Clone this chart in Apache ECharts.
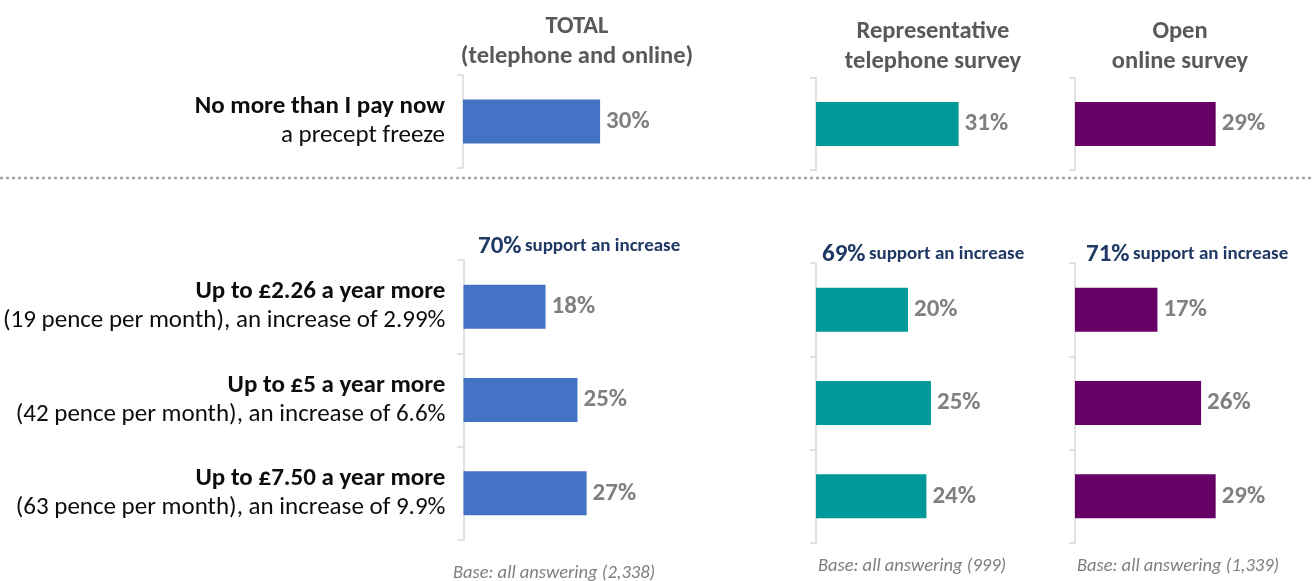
<!DOCTYPE html>
<html>
<head>
<meta charset="utf-8">
<script src="https://cdn.jsdelivr.net/npm/echarts@6/dist/echarts.min.js"></script>
<style>
html,body{margin:0;padding:0;background:#fff;}
#chart{width:1313px;height:581px;}
</style>
</head>
<body>
<div id="chart"></div>
<script>
// ---- data ----
const topCatBold = ['No more than I pay now'];
const topCatSub = ['a precept freeze'];
const incCatBold = ['Up to £2.26 a year more', 'Up to £5 a year more', 'Up to £7.50 a year more'];
const incCatSub = ['(19 pence per month), an increase of 2.99%', '(42 pence per month), an increase of 6.6%', '(63 pence per month), an increase of 9.9%'];

const panelTitles = ['TOTAL\n(telephone and online)', 'Representative\ntelephone survey', 'Open\nonline survey'];
const totalTop = [30];
const phoneTop = [31];
const onlineTop = [29];
const totalInc = [18, 25, 27];
const phoneInc = [20, 25, 24];
const onlineInc = [17, 26, 29];
const supportPct = [70, 69, 71];
const baseTexts = ['Base: all answering (2,338)', 'Base: all answering (999)', 'Base: all answering (1,339)'];

// ---- style ----
const FONT = 'Carlito, Lato, "Liberation Sans", sans-serif';
const colors = ['#4472c4', '#009999', '#660066'];
const axisGray = '#d9d9d9';

const topCats = topCatBold.map((b, i) => b + '\n' + topCatSub[i]);
const incCats = incCatBold.map((b, i) => b + '\n' + incCatSub[i]);

const panels = [
  {left: 463, topT: 75, topH: 93, botT: 260, botH: 280, max: 50, width: 228.5, top: totalTop, inc: totalInc, titleX: 577, titleY: 12, baseX: 554, baseY: 564, supX: 478, supY: 246},
  {left: 816, topT: 78, topH: 92, botT: 263, botH: 280, max: 50, width: 230, top: phoneTop, inc: phoneInc, titleX: 933, titleY: 17, baseX: 912, baseY: 557, supX: 822, supY: 254},
  {left: 1075, topT: 78, topH: 92, botT: 263, botH: 280, max: 40, width: 194, top: onlineTop, inc: onlineInc, titleX: 1180, titleY: 17, baseX: 1178, baseY: 557, supX: 1086, supY: 254}
];

const grids = [], xAxes = [], yAxes = [], series = [], titles = [], graphics = [];

function catFormatter(v) {
  const parts = v.split('\n');
  return '{b|' + parts[0] + '}\n{n|' + parts[1] + '}';
}

panels.forEach((p, pi) => {
  [[p.topT, p.topH, topCats, p.top], [p.botT, p.botH, incCats, p.inc]].forEach(([t, h, cats, vals], k) => {
    const gi = grids.length;
    grids.push({left: p.left, top: t, width: p.width, height: h, containLabel: false});
    xAxes.push({type: 'value', gridIndex: gi, min: 0, max: p.max, show: false});
    yAxes.push({
      type: 'category', gridIndex: gi, inverse: true, data: cats,
      axisLine: {show: true, lineStyle: {color: axisGray, width: 1.5}},
      axisTick: {show: true, length: 6, lineStyle: {color: axisGray, width: 1.5}},
      axisLabel: {
        show: pi === 0, margin: 18, formatter: catFormatter,
        rich: {
          b: {fontFamily: FONT, fontSize: 25, fontWeight: 'bold', color: '#0d0d0d', align: 'right', lineHeight: 29},
          n: {fontFamily: FONT, fontSize: 25, color: '#0d0d0d', align: 'right', lineHeight: 29}
        }
      },
      splitLine: {show: false}
    });
    series.push({
      type: 'bar', xAxisIndex: gi, yAxisIndex: gi, data: vals, barWidth: 44,
      itemStyle: {color: colors[pi]},
      label: {show: true, position: 'right', distance: 6, formatter: '{c}%', fontFamily: FONT, fontSize: 25, fontWeight: 'bold', color: '#808080'},
      animation: false
    });
  });
  titles.push({
    text: panelTitles[pi], left: p.titleX, top: p.titleY, textAlign: 'center', padding: 0,
    textStyle: {fontFamily: FONT, fontSize: 24.5, fontWeight: 'bold', color: '#595959', lineHeight: 30}
  });
  titles.push({
    text: baseTexts[pi], left: p.baseX, top: p.baseY, textAlign: 'center', padding: 0,
    textStyle: {fontFamily: FONT, fontSize: 18.5, fontStyle: 'italic', fontWeight: 'normal', color: '#7f7f7f'}
  });
  graphics.push({
    type: 'text', left: p.supX, top: p.supY - 12,
    style: {
      text: '{p|' + supportPct[pi] + '%} {s|support an increase}',
      rich: {
        p: {fontFamily: FONT, fontSize: 25, fontWeight: 'bold', fill: '#1f3864'},
        s: {fontFamily: FONT, fontSize: 19, fontWeight: 'bold', fill: '#1f3864'}
      }
    }
  });
});

graphics.push({
  type: 'line', shape: {x1: 0, y1: 178, x2: 1313, y2: 178},
  style: {stroke: '#a6a6a6', lineWidth: 2.5, lineDash: [3, 3]}
});

const chart = echarts.init(document.getElementById('chart'));
chart.setOption({
  animation: false,
  title: titles,
  grid: grids,
  xAxis: xAxes,
  yAxis: yAxes,
  series: series,
  graphic: graphics
});
</script>
</body>
</html>
